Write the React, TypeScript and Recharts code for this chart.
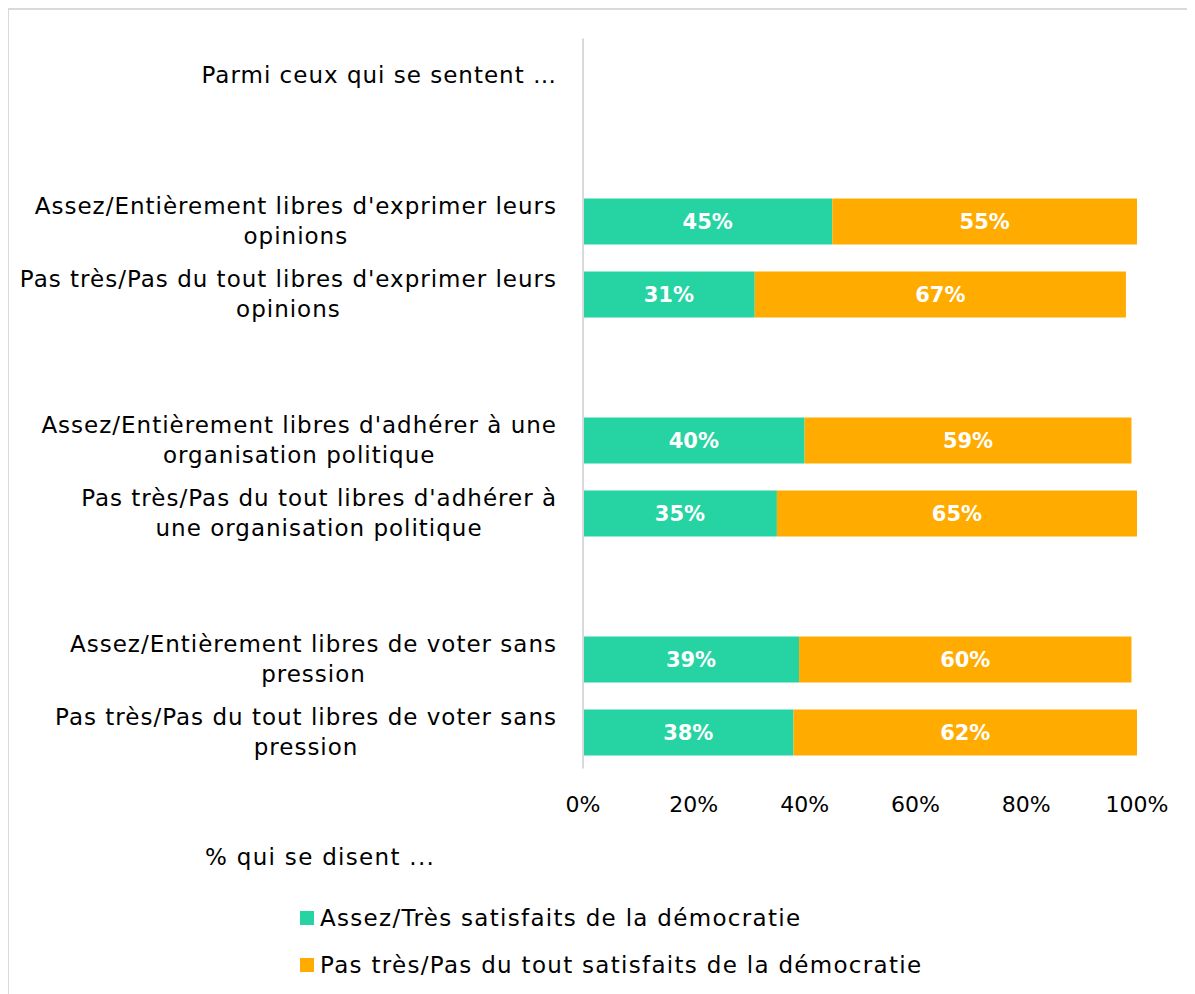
import { BarChart, Bar, XAxis, YAxis, Legend, LabelList } from "recharts";

// Row labels; "\n" marks where the original wraps. Blank rows are spacers.
const categories = [
  "Parmi ceux qui se sentent …",
  "",
  "Assez/Entièrement libres d'exprimer leurs\nopinions",
  "Pas très/Pas du tout libres d'exprimer leurs\nopinions",
  "",
  "Assez/Entièrement libres d'adhérer à une\norganisation politique",
  "Pas très/Pas du tout libres d'adhérer à\nune organisation politique",
  "",
  "Assez/Entièrement libres de voter sans\npression",
  "Pas très/Pas du tout libres de voter sans\npression",
];
const satisfied = [null, null, 45, 31, null, 40, 35, null, 39, 38];
const notSatisfied = [null, null, 55, 67, null, 59, 65, null, 60, 62];
const xTicks = [0, 20, 40, 60, 80, 100];

const seriesNames = [
  "Assez/Très satisfaits de la démocratie",
  "Pas très/Pas du tout satisfaits de la démocratie",
];
const legendTitle = "% qui se disent ...";

const GREEN = "#26D3A2";
const ORANGE = "#FFAB00";
const FONT = "'DejaVu Sans', sans-serif";
const FS = 23;
// widen DejaVu a bit to match the original's geometric face
const LS_TICK = 1.0;
const LS_LEGEND = 1.3;

const data = categories.map((name, i) => ({
  name,
  satisfied: satisfied[i],
  notSatisfied: notSatisfied[i],
}));

let ctx: CanvasRenderingContext2D | null = null;
function measure(t: string) {
  if (!ctx) ctx = document.createElement("canvas").getContext("2d");
  ctx!.font = `${FS}px ${FONT}`;
  return ctx!.measureText(t).width + LS_TICK * t.length;
}

function CategoryTick({ x, y, payload }: any) {
  const lines = String(payload.value).split("\n");
  if (!lines[0]) return null;
  const right = x - 26;
  const w = Math.max(...lines.map(measure));
  const lh = 30;
  const y0 = y - ((lines.length - 1) * lh) / 2;
  return (
    <text textAnchor="start" fontSize={FS} fontFamily={FONT} fill="#000" letterSpacing={LS_TICK}>
      {lines.map((l, i) => (
        <tspan key={i} x={right - w / 2 - measure(l) / 2} y={y0 + i * lh} dy="0.36em">
          {l}
        </tspan>
      ))}
    </text>
  );
}

function PctTick({ x, y, payload }: any) {
  return (
    <text x={x} y={y + 36} dy="0.36em" textAnchor="middle" fontSize={22} fontFamily={FONT} fill="#000">
      {payload.value}%
    </text>
  );
}

function LegendBox() {
  const colors = [GREEN, ORANGE];
  return (
    <div style={{ fontFamily: FONT, fontSize: FS, color: "#000", lineHeight: "28px", letterSpacing: LS_LEGEND }}>
      <div style={{ height: 28 }}>{legendTitle}</div>
      <div style={{ height: 33 }} />
      {seriesNames.map((n, i) => (
        <div key={n} style={{ display: "flex", alignItems: "center", marginLeft: 95, height: 28, marginBottom: 19 }}>
          <span style={{ width: 14, height: 14, background: colors[i], marginRight: 6, display: "inline-block" }} />
          <span>{n}</span>
        </div>
      ))}
    </div>
  );
}

export default function App() {
  return (
    <div style={{ position: "relative", width: 1187, height: 986 }}>
      <div
        style={{
          position: "absolute",
          left: -1,
          top: 0,
          right: 0,
          bottom: 0,
          borderTop: "2px solid #d9d9d9",
          borderLeft: "2px solid #d9d9d9",
        }}
      />
      <div style={{ position: "absolute", left: 0, top: 0 }}>
        <BarChart
          width={1187}
          height={986}
          data={data}
          layout="vertical"
          margin={{ top: 30.5, right: 58, left: 0, bottom: 165.5 }}
        >
          <XAxis
            type="number"
            domain={[0, 100]}
            ticks={xTicks}
            axisLine={false}
            tickLine={false}
            tickSize={0}
            tickMargin={0}
            height={60}
            tick={<PctTick />}
            interval={0}
          />
          <YAxis
            type="category"
            dataKey="name"
            width={575}
            axisLine={{ stroke: "#d9d9d9", strokeWidth: 2 }}
            tickLine={false}
            tickSize={0}
            tickMargin={0}
            tick={<CategoryTick />}
            interval={0}
          />
          <Legend
            layout="vertical"
            align="center"
            verticalAlign="middle"
            content={<LegendBox />}
            wrapperStyle={{ top: 835, left: 197, width: 800 }}
          />
          <Bar dataKey="satisfied" stackId="a" fill={GREEN} barSize={46} isAnimationActive={false}>
            <LabelList
              dataKey="satisfied"
              position="center"
              formatter={(v: any) => (v == null ? "" : `${v}%`)}
              fill="#fff"
              fontSize={21}
              fontWeight="bold"
              fontFamily={FONT}
            />
          </Bar>
          <Bar dataKey="notSatisfied" stackId="a" fill={ORANGE} barSize={46} isAnimationActive={false}>
            <LabelList
              dataKey="notSatisfied"
              position="center"
              formatter={(v: any) => (v == null ? "" : `${v}%`)}
              fill="#fff"
              fontSize={21}
              fontWeight="bold"
              fontFamily={FONT}
            />
          </Bar>
        </BarChart>
      </div>
    </div>
  );
}
